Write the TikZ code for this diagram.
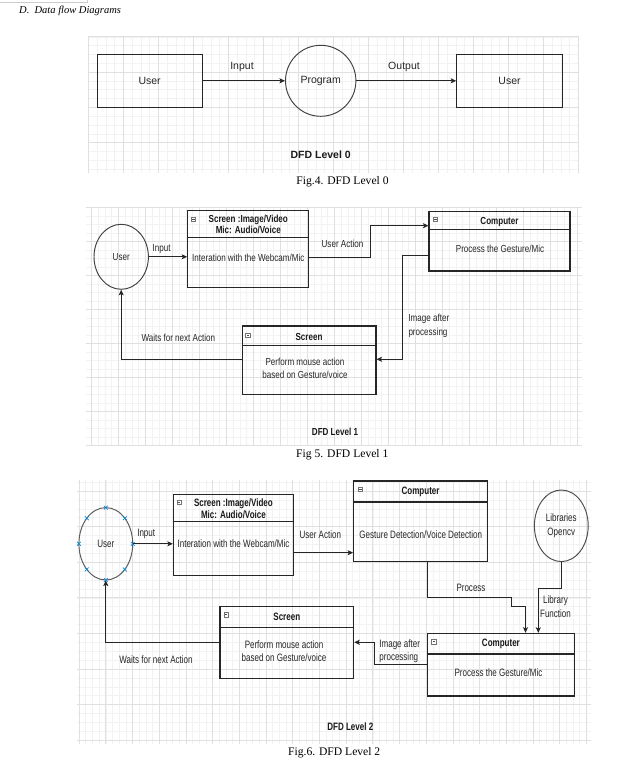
\documentclass[tikz,border=0pt]{standalone}
\usepackage{fontspec}
\setmainfont{Liberation Serif}
\newfontfamily\sfA{Liberation Sans}
\newfontfamily\sfB{Liberation Sans}[FakeStretch=0.79]
\newfontfamily\sfC{Liberation Sans}[FakeStretch=0.75]
\usetikzlibrary{shapes.geometric,arrows.meta,fit}

\tikzset{
  gridminor/.style={draw=black!5, line width=0.4pt},
  gridmajor/.style={draw=black!12, line width=0.5pt},
  plainbox/.style={draw=black!85, line width=1pt, inner sep=0pt},
  lanebox/.style={draw=black!85, line width=1.05pt, inner sep=0pt},
  circ/.style={ellipse, draw=black!75, line width=0.95pt, inner sep=0pt},
  arr/.style={draw=black!85, line width=0.95pt, -{Stealth[length=5.5pt,width=5pt,inset=1.2pt]}},
  t0/.style={font=\sfA\fontsize{10.5}{12.6}\selectfont, text=black!85, inner sep=0pt},
  t0b/.style={font=\sfA\bfseries\fontsize{10.5}{12.6}\selectfont, text=black!90, inner sep=0pt},
  t1/.style={font=\sfB\fontsize{10.2}{13.3}\selectfont, text=black!85, inner sep=0pt, align=center},
  t1h/.style={font=\sfB\bfseries\fontsize{10.2}{10.7}\selectfont, text=black!90, inner sep=0pt, align=center},
  t2/.style={font=\sfC\fontsize{10.7}{13.3}\selectfont, text=black!85, inner sep=0pt, align=center},
  t2h/.style={font=\sfC\bfseries\fontsize{10.7}{12}\selectfont, text=black!90, inner sep=0pt, align=center},
  capt/.style={font=\fontsize{11.6}{13}\selectfont, inner sep=0pt},
  handle/.style={draw=cyan!70!blue, line width=0.7pt},
}

% grid: x0 y0 x1 y1 majordx majordy originx originy
\newcommand{\bggrid}[8]{%
  \begin{scope}
    \clip (#1-0.5,#2-0.5) rectangle (#3+0.5,#4+0.5);
    \pgfmathsetmacro\gdx{#5/4}
    \pgfmathsetmacro\gdy{#6/4}
    \pgfmathtruncatemacro\gnx{ceil((#3-#7)/\gdx)}
    \pgfmathtruncatemacro\gny{ceil((#4-#8)/\gdy)}
    \pgfmathtruncatemacro\gmx{ceil((#3-#7)/#5)}
    \pgfmathtruncatemacro\gmy{ceil((#4-#8)/#6)}
    \foreach \k in {0,...,\gnx}{\pgfmathsetmacro\gx{#7+\k*\gdx}\draw[gridminor] (\gx,#2) -- (\gx,#4);}
    \foreach \k in {0,...,\gny}{\pgfmathsetmacro\gy{#8+\k*\gdy}\draw[gridminor] (#1,\gy) -- (#3,\gy);}
    \foreach \k in {0,...,\gmx}{\pgfmathsetmacro\gx{#7+\k*#5}\draw[gridmajor] (\gx,#2) -- (\gx,#4);}
    \foreach \k in {0,...,\gmy}{\pgfmathsetmacro\gy{#8+\k*#6}\draw[gridmajor] (#1,\gy) -- (#3,\gy);}
  \end{scope}}

% collapse icon: x y
\newcommand{\lanebtn}[2]{%
  \draw[black!55, line width=0.4pt, fill=white] (#1-2.1,#2-2.2) rectangle (#1+2.1,#2+2.2);
  \draw[black!70, line width=0.6pt] (#1-1.2,#2) -- (#1+1.2,#2);}

\newcommand{\hmark}[2]{%
  \draw[handle] (#1-1.9,#2-1.9) -- (#1+1.9,#2+1.9) (#1-1.9,#2+1.9) -- (#1+1.9,#2-1.9);}

\begin{document}
\begin{tikzpicture}[x=1pt,y=-1pt]
\useasboundingbox (0,0) rectangle (630,771);
\fill[white] (0,0) rectangle (630,771);

% top-left artifact
\draw[black!20, line width=0.5pt] (0,2.5) -- (87,2.5) -- (87,0);

% header
\node[anchor=west, inner sep=0pt, font=\itshape\fontsize{10.5}{12}\selectfont] (hdr) at (19,11) {D.\ \ Data flow Diagrams};

% ================= Level 0 =================
\bggrid{88.3}{36.7}{579.3}{172.7}{35}{35.3}{88.3}{36.7}

\node[plainbox, fit={(97,54.3) (202.3,107.3)}] (L0a) {};
\node[t0] at (L0a.center) {User};
\node[circ, minimum width=70.4pt, minimum height=71pt, t0] (P0) at (320.7,80.8) {Program};
\node[plainbox, fit={(456.7,54.3) (562.3,107.3)}] (L0b) {};
\node[t0] at (L0b.center) {User};

\draw[arr] (L0a.east) -- (P0.west);
\draw[arr] (P0.east) -- (L0b.west);
\node[t0] (inp0) at (242,67.3) {Input};
\node[t0] (out0) at (404,67) {Output};
\node[t0b] (dfd0) at (320.7,155) {DFD Level 0};
\node[capt] (cap0) at (342.5,181.7) {Fig.4. DFD Level 0};

% ================= Level 1 =================
\bggrid{86}{207.3}{581.7}{445.7}{27}{34}{64.3}{207.3}

\node[circ, minimum width=54.4pt, minimum height=65pt, t1] (U1) at (121.2,256.8) {User};

\node[lanebox, fit={(187.7,210.7) (308.7,287.7)}] (S1) {};
\draw[lanebox] (S1.west |- 0,237.3) -- (S1.east |- 0,237.3);
\lanebtn{193.3}{219}
\node[t1h] (S1t) at (248.3,224.4) {Screen :Image/Video\\Mic: Audio/Voice};
\node[t1] (S1b) at (248.3,257.7) {Interation with the Webcam/Mic};

\node[lanebox, fit={(429,211.7) (570,271)}] (C1) {};
\draw[lanebox] (C1.west |- 0,229.7) -- (C1.east |- 0,229.7);
\lanebtn{435.3}{219}
\node[t1h] (C1t) at (499.5,221.7) {Computer};
\node[t1] (C1b) at (500,249) {Process the Gesture/Mic};

\node[lanebox, fit={(242.3,326) (376,394.3)}] (S2) {};
\draw[lanebox] (S2.west |- 0,345.7) -- (S2.east |- 0,345.7);
\lanebtn{247.7}{335}
\node[t1h] (S2t) at (309,336.7) {Screen};
\node[t1] (S2b) at (305,368.3) {Perform mouse action\\based on Gesture/voice};

\draw[arr] (U1.east) -- (S1.west |- U1.east);
\draw[arr] (S1.east |- 0,257.7) -- (370.7,257.7) |- (C1.west |- 0,225.7);
\draw[arr] (C1.west |- 0,255.7) -| (402.3,359.3) -- (S2.east |- 0,359.3);
\draw[arr] (S2.west |- 0,359.7) -| (U1.south);

\node[t1] (inp1) at (161.7,249) {Input};
\node[t1] (ua1) at (342.5,244.3) {User Action};
\node[t1, align=left, anchor=west] (img1) at (408.3,325.9) {Image after\\processing};
\node[t1] (wt1) at (178.3,338.3) {Waits for next Action};
\node[t1h] (dfd1) at (335,432.3) {DFD Level 1};
\node[capt] (cap1) at (342.3,454.3) {Fig 5. DFD Level 1};

% ================= Level 2 =================
\bggrid{77.4}{480}{591.4}{744}{26.7}{35.6}{52.3}{455.3}

\node[circ, draw=black!65, minimum width=53.8pt, minimum height=72.4pt, t2] (U2) at (105.8,543.8) {User};
\hmark{105.8}{507.6}
\hmark{124.8}{518.2}
\hmark{132.7}{543.8}
\hmark{124.8}{569.4}
\hmark{105.8}{580}
\hmark{86.8}{569.4}
\hmark{78.9}{543.8}
\hmark{86.8}{518.2}

\node[lanebox, fit={(173.4,494.3) (293.4,575.3)}] (A2) {};
\draw[lanebox] (A2.west |- 0,521.7) -- (A2.east |- 0,521.7);
\lanebtn{178.9}{502.3}
\node[t2h] (A2t) at (233.4,508.3) {Screen :Image/Video\\Mic: Audio/Voice};
\node[t2] (A2b) at (233.5,543.3) {Interation with the Webcam/Mic};

\node[lanebox, fit={(353.7,481) (487.5,561.7)}] (B2) {};
\draw[lanebox] (B2.west |- 0,502) -- (B2.east |- 0,502);
\lanebtn{360.3}{489.3}
\node[t2h] (B2t) at (420.6,492.3) {Computer};
\node[t2] (B2b) at (420.8,534.3) {Gesture Detection/Voice Detection};

\node[circ, draw=black!70, minimum width=53.8pt, minimum height=71.6pt, t2] (C2) at (561.3,525.8) {Libraries\\Opencv};

\node[lanebox, fit={(427.5,633.3) (574.7,696)}] (D2) {};
\draw[lanebox] (D2.west |- 0,654) -- (D2.east |- 0,654);
\lanebtn{433.7}{641.7}
\node[t2h] (D2t) at (500.9,644.3) {Computer};
\node[t2] (D2b) at (498.5,673) {Process the Gesture/Mic};

\node[lanebox, fit={(220,606.7) (353.7,678.3)}] (E2) {};
\draw[lanebox] (E2.west |- 0,627.3) -- (E2.east |- 0,627.3);
\lanebtn{225.8}{614.7}
\node[t2h] (E2t) at (286.8,617.3) {Screen};
\node[t2] (E2b) at (284,651) {Perform mouse action\\based on Gesture/voice};

\draw[arr] (U2.east) -- (A2.west |- U2.east);
\draw[arr] (A2.east |- 0,552.7) -- (B2.west |- 0,552.7);
\draw[arr] (B2.south -| 427.5,0) |- (511.7,597.5) |- (525.5,606.7) -- (D2.north -| 525.5,0);
\draw[arr] (C2.south) |- (538.3,588.3) -- (D2.north -| 538.3,0);
\draw[arr] (D2.west |- 0,664.3) -| (374.4,642.3) -- (E2.east |- 0,642.3);
\draw[arr] (E2.west |- 0,642.3) -| (U2.south);

\node[t2] (inp2) at (146.2,534.3) {Input};
\node[t2] (ua2) at (320.3,534.3) {User Action};
\node[t2] (pr2) at (471,588) {Process};
\node[t2] (lf2) at (555.5,606.7) {Library\\Function};
\node[t2, align=left, anchor=west] (img2) at (379.2,651) {Image after\\processing};
\node[t2] (wt2) at (156,659.8) {Waits for next Action};
\node[t2h] (dfd2) at (350.3,726.7) {DFD Level 2};
\node[capt] (cap2) at (334.2,752.7) {Fig.6. DFD Level 2};

\end{tikzpicture}
\end{document}
